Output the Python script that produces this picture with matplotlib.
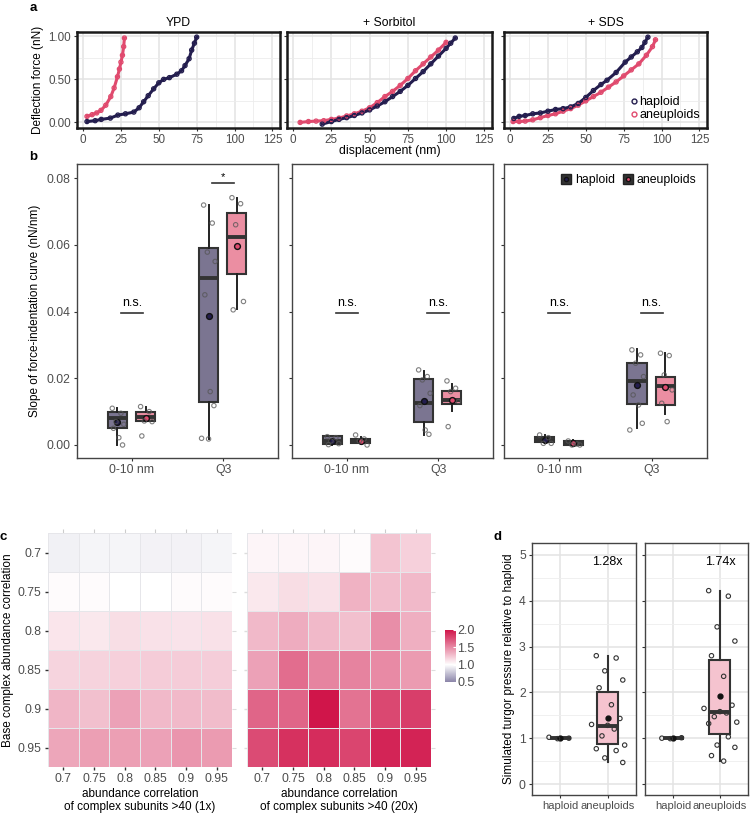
import matplotlib
matplotlib.use("Agg")
import matplotlib.pyplot as plt
import numpy as np
from matplotlib.colors import LinearSegmentedColormap, Normalize
from matplotlib.lines import Line2D
import matplotlib.colorbar as mcolorbar

plt.rcParams['font.family'] = ['Liberation Sans', 'DejaVu Sans']
plt.rcParams['font.size'] = 8

NAVY = '#231d4e'
PINK = '#e04a6e'
TXT = '#4d4d4d'
TICKSIZE = 8.4

# ---- panel a: force curves (displacement nm, force nN)
a_titles = ['YPD', '+ Sorbitol', '+ SDS']
a_hap_x = [[2.6, 8, 12, 18, 23, 28, 33.5, 37, 40, 43, 46.6, 50, 53.2, 57, 61.9, 65, 67.3, 70, 71.7, 73.5, 75],
           [19, 25, 30, 35, 40, 45, 50, 55, 60, 65, 70, 75, 80, 85, 90, 95, 100, 103, 106],
           [2.5, 6, 10, 15, 20, 25, 30, 35, 40, 45, 50, 55, 60, 64, 70, 76, 80, 84, 87, 89, 91]]
a_hap_y = [[0.01, 0.02, 0.035, 0.05, 0.085, 0.10, 0.12, 0.17, 0.24, 0.31, 0.39, 0.46, 0.50, 0.52, 0.56, 0.60, 0.66, 0.74, 0.84, 0.92, 0.99],
           [-0.02, 0.01, 0.035, 0.055, 0.08, 0.11, 0.145, 0.19, 0.24, 0.30, 0.36, 0.43, 0.51, 0.59, 0.68, 0.77, 0.86, 0.92, 0.98],
           [0.046, 0.07, 0.08, 0.10, 0.11, 0.13, 0.15, 0.16, 0.18, 0.22, 0.29, 0.37, 0.44, 0.49, 0.58, 0.70, 0.76, 0.82, 0.87, 0.93, 0.99]]
a_ane_x = [[2.6, 6, 9, 11.8, 15, 18.3, 20.5, 22.7, 24, 25, 26, 26.8, 27.3],
           [4.6, 10, 15, 20, 25, 30, 35, 40, 45, 50, 55, 60, 65, 70, 75, 80, 85, 90, 95, 100],
           [2, 6, 10, 15, 20, 25, 30, 35, 40, 45, 50, 55, 60, 65, 70, 75, 80, 85, 90, 94, 96]]
a_ane_y = [[0.07, 0.09, 0.11, 0.14, 0.20, 0.30, 0.40, 0.53, 0.62, 0.70, 0.78, 0.88, 0.98],
           [0.0, 0.01, 0.015, 0.02, 0.035, 0.05, 0.075, 0.10, 0.13, 0.17, 0.23, 0.30, 0.36, 0.43, 0.51, 0.60, 0.68, 0.76, 0.84, 0.93],
           [0.01, 0.01, 0.015, 0.03, 0.055, 0.08, 0.10, 0.13, 0.16, 0.20, 0.25, 0.30, 0.35, 0.41, 0.47, 0.54, 0.61, 0.68, 0.78, 0.88, 0.96]]

# ---- panel b: slopes, box stats [q1, median, q3, whisker low, whisker high, mean]
b_titles = ['YPD', '+ Sorbitol', '+ SDS']
b_cats = ['0-10 nm', 'Q3']
b_hap_box = [[[0.0051, 0.0082, 0.0100, 0.0000, 0.0112, 0.0069], [0.0130, 0.0500, 0.0591, 0.0019, 0.0719, 0.0387]],
             [[0.0004, 0.0012, 0.0026, 0.0001, 0.0027, 0.0013], [0.0070, 0.0125, 0.0197, 0.0029, 0.0222, 0.0132]],
             [[0.0010, 0.0016, 0.0024, 0.0006, 0.0030, 0.0016], [0.0122, 0.0192, 0.0245, 0.0052, 0.0287, 0.0180]]]
b_ane_box = [[[0.0072, 0.0085, 0.0100, 0.0072, 0.0115, 0.0082], [0.0511, 0.0623, 0.0694, 0.0406, 0.0741, 0.0596]],
             [[0.0005, 0.0011, 0.0018, 0.0003, 0.0024, 0.0012], [0.0122, 0.0135, 0.0162, 0.0102, 0.0182, 0.0134]],
             [[0.0000, 0.0006, 0.0012, 0.0000, 0.0016, 0.0005], [0.0120, 0.0177, 0.0204, 0.0092, 0.0277, 0.0175]]]
b_hap_pts = [[[0.0110, 0.0095, 0.0070, 0.0062, 0.0050, 0.0022, 0.0000],
              [0.0719, 0.0665, 0.0578, 0.0550, 0.0450, 0.0160, 0.0118, 0.0020, 0.0018]],
             [[0.0025, 0.0022, 0.0012, 0.0004, 0.0001],
              [0.0225, 0.0205, 0.0195, 0.0155, 0.0118, 0.0045, 0.0032]],
             [[0.0030, 0.0022, 0.0005, 0.0005],
              [0.0285, 0.0270, 0.0245, 0.0205, 0.0150, 0.0120, 0.0065, 0.0045]]]
b_ane_pts = [[[0.0115, 0.0100, 0.0072, 0.0070, 0.0027],
              [0.0741, 0.0723, 0.0660, 0.0430, 0.0405]],
             [[0.0030, 0.0018, 0.0012, 0.0000],
              [0.0192, 0.0170, 0.0160, 0.0130, 0.0055]],
             [[0.0012, 0.0003, 0.0000, 0.0000],
              [0.0275, 0.0268, 0.0210, 0.0165, 0.0125, 0.0070]]]
b_sig = [['n.s.', '*'], ['n.s.', 'n.s.'], ['n.s.', 'n.s.']]

# ---- panel c: simulated turgor heatmaps
c_levels = ['0.7', '0.75', '0.8', '0.85', '0.9', '0.95']
c_1x = [[0.94, 0.96, 0.96, 0.95, 0.95, 0.96],
        [1.02, 1.02, 1.00, 1.00, 1.02, 1.02],
        [1.11, 1.10, 1.14, 1.13, 1.12, 1.13],
        [1.18, 1.19, 1.20, 1.22, 1.22, 1.21],
        [1.32, 1.27, 1.40, 1.30, 1.30, 1.29],
        [1.38, 1.41, 1.41, 1.40, 1.45, 1.43]]
c_20x = [[1.04, 1.04, 1.04, 1.02, 1.25, 1.20],
         [1.10, 1.15, 1.13, 1.33, 1.28, 1.30],
         [1.30, 1.35, 1.30, 1.27, 1.48, 1.34],
         [1.40, 1.62, 1.52, 1.53, 1.50, 1.43],
         [1.66, 1.66, 2.00, 1.60, 1.78, 1.82],
         [1.77, 1.88, 1.90, 1.79, 1.93, 1.94]]
c_xlabels = ['abundance correlation\nof complex subunits >40 (1x)',
             'abundance correlation\nof complex subunits >40 (20x)']

# ---- panel d: simulated turgor pressure relative to haploid
d_groups = ['haploid', 'aneuploids']
d_labels = ['1.28x', '1.74x']
d_hap_box = [[1.0, 1.0, 1.0, 0.99, 1.02, 1.0], [1.0, 1.0, 1.0, 0.99, 1.01, 1.0]]
d_ane_box = [[0.88, 1.27, 2.00, 0.47, 2.80, 1.45], [1.10, 1.57, 2.70, 0.50, 4.22, 1.92]]
d_hap_pts = [[1.02, 1.00, 0.99], [1.00, 1.01, 0.99]]
d_ane_pts = [[2.80, 2.75, 2.47, 2.27, 2.10, 1.73, 1.43, 1.30, 1.28, 1.20, 1.05, 0.85, 0.77, 0.73, 0.57, 0.47],
             [4.22, 4.10, 3.43, 3.12, 2.80, 2.35, 1.72, 1.65, 1.58, 1.55, 1.47, 1.35, 1.32, 1.03, 0.85, 0.80, 0.62, 0.50]]

W, H = 750, 814
fig = plt.figure(figsize=(W / 100, H / 100), dpi=100)


def ax_px(l, t, r, b):
    return fig.add_axes([l / W, 1 - b / H, (r - l) / W, (b - t) / H])


def jitter(n, width):
    pattern = np.array([-0.6, 0.45, -0.15, 0.8, -0.45, 0.2, 0.65, -0.85, 0.0, 0.35, -0.3, 0.9])
    return np.resize(pattern, n) * width


def stat(s):
    return dict(q1=s[0], med=s[1], q3=s[2], whislo=s[3], whishi=s[4], mean=s[5])


# ================= panel a
a_rects = [(77, 32, 280, 128), (287, 32, 492, 128), (504, 32, 707, 128)]
for i, r in enumerate(a_rects):
    ax = ax_px(*r)
    ax.set_xlim(-4, 130)
    ax.set_ylim(-0.065, 1.05)
    ax.set_xticks([0, 25, 50, 75, 100, 125])
    ax.set_xticks([12.5, 37.5, 62.5, 87.5, 112.5], minor=True)
    ax.set_yticks([0, 0.5, 1.0])
    ax.set_yticks([0.25, 0.75], minor=True)
    ax.grid(True, which='major', color='#e3e3e3', lw=1.1)
    ax.grid(True, which='minor', color='#ececec', lw=0.6)
    ax.set_axisbelow(True)
    for sp in ax.spines.values():
        sp.set_color('#1a1a1a')
        sp.set_linewidth(1.8)
    ax.tick_params(which='both', color='#333333', length=2.5, labelcolor=TXT, labelsize=TICKSIZE, pad=2)
    ax.tick_params(which='minor', length=0)
    if i == 0:
        ax.set_yticklabels(['0.00', '0.50', '1.00'])
        ax.set_ylabel('Deflection force (nN)', fontsize=8.5, labelpad=3)
    else:
        ax.set_yticklabels([])
    ax.plot(a_ane_x[i], a_ane_y[i], '-', color=PINK, lw=2.2, zorder=2)
    ax.plot(a_hap_x[i], a_hap_y[i], '-', color=NAVY, lw=2.2, zorder=2)
    ax.scatter(a_ane_x[i], a_ane_y[i], s=9, facecolor='none', edgecolor=PINK, lw=0.9, zorder=3)
    ax.scatter(a_hap_x[i], a_hap_y[i], s=9, facecolor='none', edgecolor=NAVY, lw=0.9, zorder=3)
    ax.set_title(a_titles[i], fontsize=8.8, pad=4)
    if i == 1:
        ax.set_xlabel('displacement (nm)', fontsize=8.8, labelpad=-1)
    if i == 2:
        hs = [Line2D([], [], ls='none', marker='o', ms=3.5, mfc='none', mec=NAVY, mew=1),
              Line2D([], [], ls='none', marker='o', ms=3.5, mfc='none', mec=PINK, mew=1)]
        ax.legend(hs, ['haploid', 'aneuploids'], loc='lower right', frameon=False, fontsize=9,
                  handletextpad=0.0, labelspacing=0.1, borderaxespad=0.15, handlelength=0.9)

# ================= panel b
b_rects = [(77, 164, 278, 458), (292, 164, 493, 458), (504, 164, 707, 458)]
HAP_BOX = '#7b7591'
ANE_BOX = '#eb8ea2'
for i, r in enumerate(b_rects):
    ax = ax_px(*r)
    for j in range(2):
        for box, pts, col, fill, off in [(b_hap_box, b_hap_pts, NAVY, HAP_BOX, -0.16),
                                        (b_ane_box, b_ane_pts, PINK, ANE_BOX, 0.15)]:
            pos = j + 1 + off
            ax.bxp([stat(box[i][j])], positions=[pos], widths=0.21, patch_artist=True,
                   showmeans=True, showcaps=False, showfliers=False,
                   boxprops=dict(facecolor=fill, edgecolor='#333333', lw=1.5),
                   whiskerprops=dict(color='#222222', lw=1.4),
                   medianprops=dict(color='#333333', lw=2.8),
                   meanprops=dict(marker='o', markerfacecolor=col, markeredgecolor='#111111',
                                  markersize=4.2, markeredgewidth=1.0))
            p = pts[i][j]
            ax.scatter(pos + jitter(len(p), 0.09), p, s=10, facecolor='none',
                       edgecolor='#555555', alpha=0.75, lw=0.8, zorder=4)
        sig = b_sig[i][j]
        if sig == '*':
            ax.plot([j + 1 - 0.12, j + 1 + 0.12], [0.0785, 0.0785], color='#333333', lw=1.2)
            ax.text(j + 1, 0.0787, '*', ha='center', va='bottom', fontsize=8)
        else:
            ax.plot([j + 1 - 0.12, j + 1 + 0.12], [0.0396, 0.0396], color='#333333', lw=1.2)
            ax.text(j + 1, 0.0408, sig, ha='center', va='bottom', fontsize=9)
    ax.set_xlim(0.4, 2.6)
    ax.set_ylim(-0.0039, 0.0842)
    ax.set_xticks([1, 2])
    ax.set_xticklabels(b_cats)
    ax.set_yticks([0, 0.02, 0.04, 0.06, 0.08])
    for sp in ax.spines.values():
        sp.set_color('#444444')
        sp.set_linewidth(1.0)
    ax.tick_params(color='#333333', length=2.5, labelcolor=TXT, labelsize=TICKSIZE + 0.4, pad=2)
    if i == 0:
        ax.set_yticklabels(['0.00', '0.02', '0.04', '0.06', '0.08'])
        ax.set_ylabel('Slope of force-indentation curve (nN/nm)', fontsize=8.5, labelpad=4)
    else:
        ax.set_yticklabels([])
    if i == 2:
        hs = [(Line2D([], [], ls='none', marker='s', ms=7, mfc='#333333', mec='#222222'),
               Line2D([], [], ls='none', marker='o', ms=3, mfc=NAVY, mec='#111111')),
              (Line2D([], [], ls='none', marker='s', ms=7, mfc='#333333', mec='#222222'),
               Line2D([], [], ls='none', marker='o', ms=3, mfc=PINK, mec='#111111'))]
        ax.legend(hs, ['haploid', 'aneuploids'], loc='upper right', ncol=2, frameon=False,
                  fontsize=8.8, handletextpad=0.2, columnspacing=0.6, handlelength=1.0,
                  borderaxespad=0.45)

# ================= panel c
cmap = LinearSegmentedColormap.from_list('turgor', [(0.0, '#8a84a8'), (1 / 3, '#ffffff'), (1.0, '#d0154a')])
norm = Normalize(vmin=0.5, vmax=2.0)
c_rects = [(48, 533, 232, 767), (247, 533, 431, 767)]
for i, (r, vals) in enumerate(zip(c_rects, [c_1x, c_20x])):
    ax = ax_px(*r)
    ax.pcolormesh(np.arange(7) - 0.5, np.arange(7) - 0.5, np.array(vals), cmap=cmap, norm=norm,
                  edgecolors='#e6e6ea', linewidth=0.7)
    ax.set_xlim(-0.5, 5.5)
    ax.set_ylim(5.5, -0.5)
    for sp in ax.spines.values():
        sp.set_visible(False)
    ax.set_xticks(range(6))
    ax.set_xticklabels(c_levels)
    ax.set_yticks(range(6))
    ax.tick_params(color='#333333', length=2.5, width=1.0, labelcolor=TXT, labelsize=TICKSIZE + 0.4, pad=2)
    if i == 0:
        ax.set_yticklabels(c_levels)
        ax.set_ylabel('Base complex abundance correlation', fontsize=8.5, labelpad=3)
    else:
        ax.set_yticklabels([])
        ax.tick_params(axis='y', color='#dddddd')
    sx = ax.secondary_xaxis('top')
    sx.set_xticks(range(6))
    sx.set_xticklabels([])
    sx.tick_params(color='#cccccc', length=3)
    sx.spines['top'].set_visible(False)
    sy = ax.secondary_yaxis('right')
    sy.set_yticks(range(6))
    sy.set_yticklabels([])
    sy.tick_params(color='#dddddd', length=3)
    sy.spines['right'].set_visible(False)
    ax.set_xlabel(c_xlabels[i], fontsize=8.5, labelpad=2, linespacing=1.1)

cax = ax_px(445, 630, 456, 682)
cb = mcolorbar.ColorbarBase(cax, cmap=cmap, norm=norm)
cb.set_ticks([0.5, 1.0, 1.5, 2.0])
cb.set_ticklabels(['0.5', '1.0', '1.5', '2.0'])
cb.outline.set_visible(False)
cax.tick_params(color='white', length=2.5, direction='in', labelcolor=TXT, labelsize=9, pad=1)

# ================= panel d
d_rects = [(532, 543, 636, 795), (645, 543, 748, 795)]
for i, r in enumerate(d_rects):
    ax = ax_px(*r)
    for pos, box, pts in [(1, d_hap_box[i], d_hap_pts[i]), (2, d_ane_box[i], d_ane_pts[i])]:
        ax.bxp([stat(box)], positions=[pos], widths=0.45, patch_artist=True,
               showmeans=True, showcaps=False, showfliers=False,
               boxprops=dict(facecolor='#f5c3cf', edgecolor='#333333', lw=1.5),
               whiskerprops=dict(color='#333333', lw=1.5),
               medianprops=dict(color='#333333', lw=2.8),
               meanprops=dict(marker='o', markerfacecolor='#111111', markeredgecolor='#111111',
                              markersize=3.5), zorder=3)
        ax.scatter(pos + jitter(len(pts), 0.4), pts, s=10, facecolor='none',
                   edgecolor='#333333', lw=0.8, zorder=4)
    ax.set_xlim(0.4, 2.6)
    ax.set_ylim(-0.24, 5.26)
    ax.set_yticks(range(6))
    ax.set_yticks(np.arange(0.5, 5.5, 1), minor=True)
    ax.set_xticks([1, 2])
    ax.set_xticklabels(d_groups)
    ax.grid(True, which='major', color='#e3e3e3', lw=1.1)
    ax.grid(True, which='minor', color='#eeeeee', lw=0.6)
    ax.set_axisbelow(True)
    for sp in ax.spines.values():
        sp.set_color('#444444')
        sp.set_linewidth(1.0)
    ax.tick_params(which='both', color='#333333', length=2.5, labelcolor=TXT, labelsize=8.8, pad=2)
    ax.tick_params(axis='x', labelsize=8)
    ax.tick_params(which='minor', length=0)
    ax.text(2.0, 4.85, d_labels[i], ha='center', va='center', fontsize=9)
    if i == 0:
        ax.set_ylabel('Simulated turgor pressure relative to haploid', fontsize=8.5, labelpad=3)
    else:
        ax.set_yticklabels([])

# ================= panel letters
for lab, x, y in [('a', 33, 8), ('b', 33, 157), ('c', 3, 537), ('d', 498, 537)]:
    fig.text(x / W, 1 - y / H, lab, fontsize=9.5, fontweight='bold', ha='center', va='center')

fig.savefig('out.png', dpi=100)
